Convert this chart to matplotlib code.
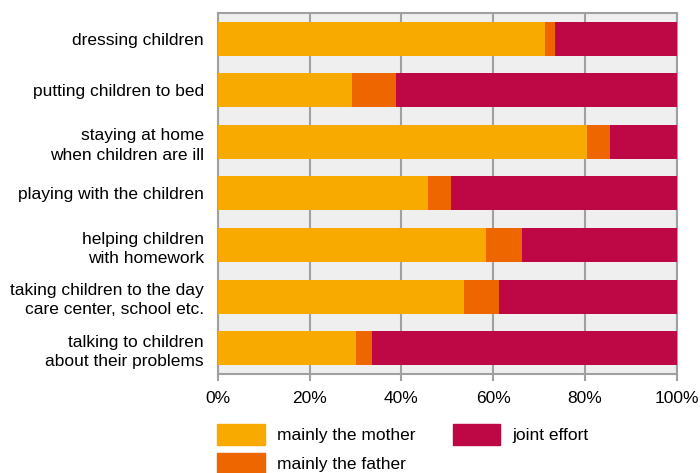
import numpy as np
import matplotlib.pyplot as plt
from matplotlib.patches import Patch

plt.rcParams['font.family'] = ['Liberation Sans', 'DejaVu Sans']

categories = [
    "dressing children",
    "putting children to bed",
    "staying at home\nwhen children are ill",
    "playing with the children",
    "helping children\nwith homework",
    "taking children to the day\ncare center, school etc.",
    "talking to children\nabout their problems",
]
mother = [71.3, 29.2, 80.5, 45.8, 58.5, 53.7, 30.1]
father = [2.2, 9.6, 5.0, 5.0, 7.8, 7.6, 3.5]
joint = [26.5, 61.2, 14.5, 49.2, 33.7, 38.7, 66.4]
series_names = ["mainly the mother", "mainly the father", "joint effort"]
colors = ["#F8AA00", "#EE6600", "#BE0745"]

fig = plt.figure(figsize=(7, 4.73), dpi=100)
ax = fig.add_axes([0.311, 0.209, 0.656, 0.764])
ax.set_facecolor("#efefef")

y = np.arange(len(categories))
left = np.zeros(len(categories))
for vals, c in zip([mother, father, joint], colors):
    ax.barh(y, vals, left=left, height=0.66, color=c, zorder=3)
    left += np.array(vals)

ax.set_xlim(0, 100)
ax.set_ylim(len(categories) - 0.5, -0.5)
ax.set_yticks(y)
ax.set_yticklabels(categories, fontsize=12.5, linespacing=1.35)
ax.set_xticks(np.arange(0, 101, 20))
ax.set_xticklabels([f"{v}%" for v in range(0, 101, 20)], fontsize=12.5)
ax.grid(axis="x", color="#a0a0a0", linewidth=1.5, zorder=1)
for s in ax.spines.values():
    s.set_color("#a0a0a0")
    s.set_linewidth(1.5)
ax.tick_params(axis="y", length=0, pad=10)
ax.tick_params(axis="x", length=5, width=1.5, color="#a0a0a0", pad=7)

handles = [Patch(color=c, label=n) for c, n in zip(colors, series_names)]
fig.legend(handles=handles, loc="upper left", bbox_to_anchor=(0.310, 0.104),
           ncol=2, frameon=False, fontsize=12.5, handlelength=2.75,
           handleheight=1.5, handletextpad=0.7, columnspacing=2.15,
           labelspacing=0.47, borderaxespad=0, borderpad=0)

fig.savefig("out.png", dpi=100)
